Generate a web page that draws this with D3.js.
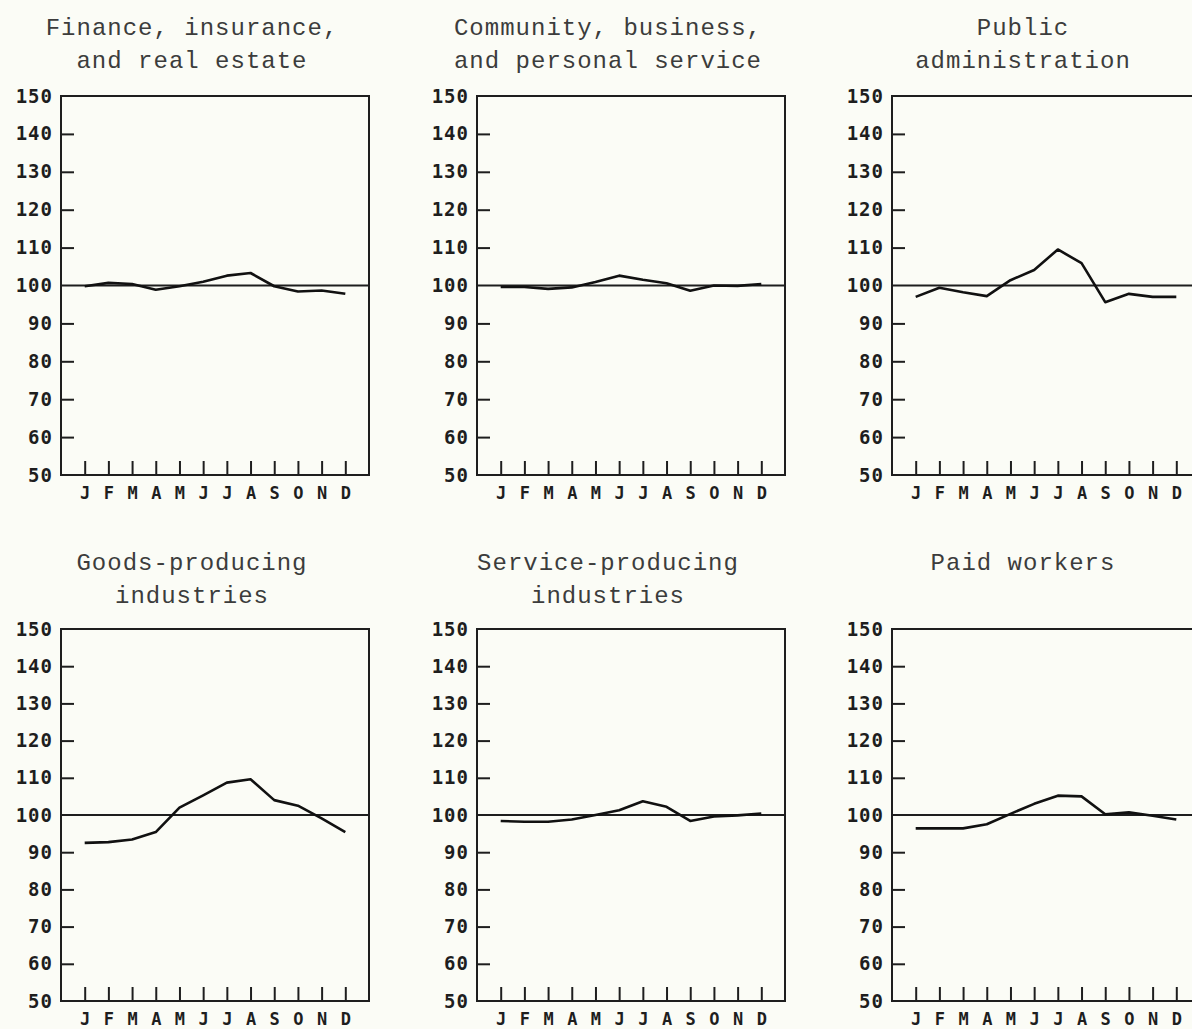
<!DOCTYPE html>
<html>
<head>
<meta charset="utf-8">
<script src="https://cdn.jsdelivr.net/npm/d3@7"></script>
<style>
  body { margin: 0; background: #fbfcf6; }
  svg { display: block; }
  .titulo { font-family: "Liberation Mono", monospace; font-size: 24px; letter-spacing: 1px; fill: #3c3c3c; }
  .ejes text { font-family: "DejaVu Sans Mono", monospace; font-weight: bold; fill: #1e1e1e; }
  .ejeY text { font-size: 19px; letter-spacing: 1px; }
  .ejeX text { font-size: 17px; }
  .ejes line { stroke: #1e1e1e; stroke-width: 2; }
</style>
</head>
<body>
<div id="graf"></div>
<script>
// Índices estacionales por mes (100 = promedio)

meses = ['J', 'F', 'M', 'A', 'M', 'J', 'J', 'A', 'S', 'O', 'N', 'D']
yTicks = [50, 60, 70, 80, 90, 100, 110, 120, 130, 140, 150]

finanzas   = [99.8, 100.7, 100.4, 98.9, 99.8, 101.0, 102.6, 103.3, 99.8, 98.4, 98.7, 97.8]
comunidad  = [99.6, 99.6, 99.1, 99.5, 100.9, 102.6, 101.5, 100.6, 98.6, 100.0, 99.9, 100.4]
publica    = [97.0, 99.4, 98.2, 97.2, 101.4, 104.1, 109.5, 105.9, 95.6, 97.8, 97.0, 97.0]
bienes     = [92.5, 92.7, 93.4, 95.4, 102.0, 105.3, 108.7, 109.6, 104.0, 102.5, 99.1, 95.4]
servicios  = [98.4, 98.2, 98.2, 98.8, 100.0, 101.3, 103.7, 102.2, 98.4, 99.6, 99.9, 100.4]
asalariados = [96.4, 96.4, 96.4, 97.5, 100.3, 103.0, 105.2, 105.0, 100.2, 100.7, 99.8, 98.8]

paneles = [
  { titulo: ['Finance, insurance,', 'and real estate'], datos: finanzas, col: 0, fila: 0 },
  { titulo: ['Community, business,', 'and personal service'], datos: comunidad, col: 1, fila: 0 },
  { titulo: ['Public', 'administration'], datos: publica, col: 2, fila: 0 },
  { titulo: ['Goods-producing', 'industries'], datos: bienes, col: 0, fila: 1 },
  { titulo: ['Service-producing', 'industries'], datos: servicios, col: 1, fila: 1 },
  { titulo: ['Paid workers'], datos: asalariados, col: 2, fila: 1 }
]

// posiciones de la cuadrícula
izquierdas = [61, 477, 892]
ancho = 308
filas = [
  { top: 96, alto: 379, base: 35 },
  { top: 629, alto: 372, base: 570 }
]

svg = d3.select('#graf').append('svg')
          .attr('width', 1192)
          .attr('height', 1029)

paneles.forEach(p => {
  const left = izquierdas[p.col]
  const f = filas[p.fila]
  const alto = f.alto

  const x = d3.scaleLinear().domain([0, 13]).range([0, ancho])
  const y = d3.scaleLinear().domain([50, 150]).range([alto, 0])

  // título
  const t = svg.append('text')
                .attr('class', 'titulo')
                .attr('text-anchor', 'middle')
                .attr('x', left + 131)
                .attr('y', f.base)
  p.titulo.forEach((linea, i) => {
    t.append('tspan')
      .attr('x', left + 131)
      .attr('dy', i == 0 ? 0 : 33)
      .text(linea)
  })

  g = svg.append('g')
          .attr('transform', `translate(${ left }, ${ f.top })`)

  // Ejes
  yAxisCall = d3.axisLeft(y)
                .tickValues(yTicks)
                .tickSize(-13)
                .tickPadding(8)
  yAxis = g.append('g')
            .attr('class', 'ejes ejeY')
            .call(yAxisCall)
  yAxis.select('.domain').remove()
  yAxis.selectAll('.tick')
        .filter(d => d == 50 || d == 150 || d == 100)
        .select('line').remove()

  xAxisCall = d3.axisBottom(x)
                .tickValues(d3.range(1, 13))
                .tickSize(-14)
                .tickPadding(12)
                .tickFormat(d => meses[d - 1])
  xAxis = g.append('g')
            .attr('class', 'ejes ejeX')
            .attr('transform', `translate(0, ${ alto })`)
            .call(xAxisCall)
  xAxis.select('.domain').remove()

  // marco
  g.append('rect')
    .attr('width', ancho)
    .attr('height', alto)
    .attr('fill', 'none')
    .attr('stroke', '#1e1e1e')
    .attr('stroke-width', 2)

  // línea de referencia en 100
  g.append('line')
    .attr('x1', 0)
    .attr('x2', ancho)
    .attr('y1', y(100))
    .attr('y2', y(100))
    .attr('stroke', '#1e1e1e')
    .attr('stroke-width', 2)

  lineaGen = d3.line()
                .x((d, i) => x(i + 1))
                .y(d => y(d))
  g.append('path')
    .attr('fill', 'none')
    .attr('stroke', '#111')
    .attr('stroke-width', 2.6)
    .attr('stroke-linejoin', 'round')
    .attr('d', lineaGen(p.datos))
})
</script>
</body>
</html>
